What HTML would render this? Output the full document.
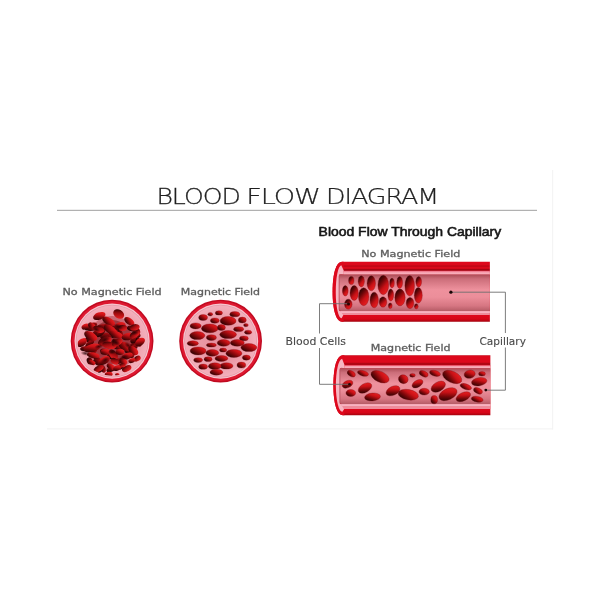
<!DOCTYPE html>
<html lang="en"><head><meta charset="utf-8"><title>Blood Flow Diagram</title>
<style>
html,body{margin:0;padding:0;background:#fff;}
body{width:600px;height:600px;overflow:hidden;font-family:"Liberation Sans","DejaVu Sans",sans-serif;}
svg{display:block;will-change:transform;opacity:0.999}
.lbl{font-family:"DejaVu Sans","Liberation Sans",sans-serif;font-size:9.2px;fill:#5e5e5e;stroke:#5e5e5e;stroke-width:0.3px;}
.lbl2{font-family:"DejaVu Sans","Liberation Sans",sans-serif;font-size:10.7px;fill:#4a4a4a;stroke:#4a4a4a;stroke-width:0.12px;}
.ttl{font-family:"DejaVu Sans Light","DejaVu Sans","Liberation Sans",sans-serif;font-weight:200;font-size:22px;fill:#202020;stroke:#202020;stroke-width:0.25px;}
.sub{font-family:"Liberation Sans","DejaVu Sans",sans-serif;font-weight:normal;font-size:12.3px;fill:#161616;stroke:#161616;stroke-width:0.55px;}
</style></head><body>
<svg width="600" height="600" viewBox="0 0 600 600">
<defs>
<linearGradient id="cg" x1="0.15" y1="0.9" x2="0.85" y2="0.1">
<stop offset="0" stop-color="#2c0202"/><stop offset="0.32" stop-color="#740709"/><stop offset="0.64" stop-color="#c81116"/><stop offset="1" stop-color="#ea2022"/>
</linearGradient>
<radialGradient id="shd" cx="0.5" cy="0.5" r="0.5">
<stop offset="0" stop-color="#1c0002" stop-opacity="0.8"/><stop offset="0.5" stop-color="#2a0003" stop-opacity="0.45"/><stop offset="1" stop-color="#3a0004" stop-opacity="0"/>
</radialGradient>
<linearGradient id="cgt" x1="0.2" y1="0.05" x2="0.8" y2="0.95">
<stop offset="0" stop-color="#220101"/><stop offset="0.3" stop-color="#6a0608"/><stop offset="0.62" stop-color="#c81116"/><stop offset="1" stop-color="#ea2022"/>
</linearGradient>
<linearGradient id="hlg" x1="0" y1="0" x2="0" y2="1">
<stop offset="0" stop-color="#ec627a"/><stop offset="0.4" stop-color="#f6a0ae"/><stop offset="1" stop-color="#fab8c4"/>
</linearGradient>
<linearGradient id="cgc" x1="0.1" y1="0.85" x2="0.9" y2="0.15">
<stop offset="0" stop-color="#240101"/><stop offset="0.4" stop-color="#7c080a"/><stop offset="0.75" stop-color="#c81116"/><stop offset="1" stop-color="#e41c1e"/>
</linearGradient>
<linearGradient id="cgd" x1="0.15" y1="0.9" x2="0.85" y2="0.1">
<stop offset="0" stop-color="#1e0101"/><stop offset="0.45" stop-color="#5c0507"/><stop offset="1" stop-color="#b30e12"/>
</linearGradient>
<linearGradient id="cg2" x1="0.2" y1="0.1" x2="0.8" y2="0.9">
<stop offset="0" stop-color="#3a0404"/><stop offset="0.4" stop-color="#9a0b0e"/><stop offset="1" stop-color="#e81d20"/>
</linearGradient>
<linearGradient id="cg3" x1="0" y1="0" x2="0" y2="1">
<stop offset="0" stop-color="#4a0606"/><stop offset="0.5" stop-color="#b80d10"/><stop offset="1" stop-color="#e6191c"/>
</linearGradient>
<radialGradient id="lum" cx="0.5" cy="0.5" r="0.5">
<stop offset="0" stop-color="#e68d9b"/><stop offset="0.6" stop-color="#ea98a5"/><stop offset="1" stop-color="#f3b0bc"/>
</radialGradient>
<linearGradient id="tube" x1="0" y1="0" x2="0" y2="1">
<stop offset="0" stop-color="#dd081c"/><stop offset="0.05" stop-color="#dd081c"/><stop offset="0.065" stop-color="#c40616"/><stop offset="0.085" stop-color="#c40616"/>
<stop offset="0.095" stop-color="#da081a"/><stop offset="0.11" stop-color="#da081a"/><stop offset="0.122" stop-color="#a60412"/><stop offset="0.15" stop-color="#a60412"/>
<stop offset="0.156" stop-color="#dd081c"/><stop offset="0.9" stop-color="#dd081c"/><stop offset="0.955" stop-color="#d60618"/><stop offset="1" stop-color="#a2030e"/>
</linearGradient>
<linearGradient id="tube2" x1="0" y1="0" x2="0" y2="1">
<stop offset="0" stop-color="#c40616"/><stop offset="0.02" stop-color="#dd081c"/><stop offset="0.115" stop-color="#dd081c"/><stop offset="0.135" stop-color="#b20514"/><stop offset="0.165" stop-color="#b20514"/>
<stop offset="0.17" stop-color="#dd081c"/><stop offset="0.9" stop-color="#dd081c"/><stop offset="0.955" stop-color="#d60618"/><stop offset="1" stop-color="#a2030e"/>
</linearGradient>
<linearGradient id="lumen" x1="0" y1="0" x2="0" y2="1">
<stop offset="0" stop-color="#ac4c56"/><stop offset="0.12" stop-color="#cc6e7a"/><stop offset="0.42" stop-color="#ee919d"/><stop offset="0.62" stop-color="#ec8e9a"/><stop offset="0.86" stop-color="#d67682"/><stop offset="1" stop-color="#b65c66"/>
</linearGradient>
<clipPath id="c1"><circle cx="112.1" cy="341.1" r="34.6"/></clipPath>
</defs>
<rect width="600" height="600" fill="#ffffff"/>
<rect x="47" y="428.4" width="506" height="1" fill="#f2f2f2"/>
<rect x="552.2" y="170" width="1" height="259.4" fill="#f2f2f2"/>

<text class="ttl" transform="translate(156.4,203.7) scale(1.145,1)" letter-spacing="-0.9">BLOOD</text>
<text class="ttl" transform="translate(246.2,203.7) scale(1.235,1)" letter-spacing="-0.9">FLOW</text>
<text class="ttl" transform="translate(326.1,203.7) scale(1.152,1)" letter-spacing="-0.9">DIAGRAM</text>
<rect x="57" y="209.8" width="480" height="1.1" fill="#a9a9a9"/>
<text class="sub" x="318.6" y="235.6" textLength="182.6" lengthAdjust="spacingAndGlyphs">Blood Flow Through Capillary</text>
<text class="lbl" x="62.4" y="294.8" textLength="99.3" lengthAdjust="spacingAndGlyphs">No Magnetic Field</text>
<text class="lbl" x="180.8" y="294.9" textLength="79.2" lengthAdjust="spacingAndGlyphs">Magnetic Field</text>
<text class="lbl" x="361.2" y="257.2" textLength="99.2" lengthAdjust="spacingAndGlyphs">No Magnetic Field</text>
<text class="lbl" x="370.8" y="351.0" textLength="79.7" lengthAdjust="spacingAndGlyphs">Magnetic Field</text>
<text class="lbl2" x="285.5" y="344.9" textLength="60.4" lengthAdjust="spacingAndGlyphs">Blood Cells</text>
<text class="lbl2" x="479.5" y="344.9" textLength="46.4" lengthAdjust="spacingAndGlyphs">Capillary</text>
<circle cx="112.1" cy="341.1" r="41.4" fill="#c00a20"/>
<circle cx="112.1" cy="341.1" r="40.0" fill="#de1830"/>
<circle cx="112.1" cy="341.1" r="37.6" fill="#f9c4ce"/>
<circle cx="112.1" cy="341.1" r="36.4" fill="#dc9aa6"/>
<circle cx="112.1" cy="341.1" r="35.9" fill="#f1a8b5"/>
<circle cx="112.1" cy="341.1" r="35.4" fill="url(#lum)"/>
<g clip-path="url(#c1)">
<ellipse cx="112" cy="343" rx="26" ry="27" fill="#8a0c14" opacity="0.35"/>
<ellipse cx="112" cy="342" rx="21" ry="22" fill="#7a0a10" opacity="0.5"/>
<ellipse cx="91.7" cy="349.6" rx="5.3" ry="2.6" fill="url(#cgd)" transform="rotate(50 91.7 349.6)"/>
<ellipse cx="119.6" cy="333.2" rx="5.0" ry="2.6" fill="url(#cgd)" transform="rotate(70 119.6 333.2)"/>
<ellipse cx="114.3" cy="334.6" rx="4.1" ry="2.3" fill="url(#cgd)" transform="rotate(-40 114.3 334.6)"/>
<ellipse cx="97.2" cy="332.9" rx="4.4" ry="2.8" fill="url(#cgd)" transform="rotate(-20 97.2 332.9)"/>
<ellipse cx="93.5" cy="324.7" rx="3.7" ry="2.2" fill="url(#cgd)" transform="rotate(-10 93.5 324.7)"/>
<ellipse cx="91.7" cy="328.2" rx="4.2" ry="2.7" fill="url(#cgd)" transform="rotate(-10 91.7 328.2)"/>
<ellipse cx="89.4" cy="340.4" rx="4.5" ry="2.7" fill="url(#cgd)" transform="rotate(35 89.4 340.4)"/>
<ellipse cx="101.8" cy="327.9" rx="4.6" ry="2.9" fill="url(#cgd)" transform="rotate(-30 101.8 327.9)"/>
<ellipse cx="107.8" cy="327.5" rx="4.0" ry="2.4" fill="url(#cgd)" transform="rotate(-30 107.8 327.5)"/>
<ellipse cx="103.4" cy="339.5" rx="3.8" ry="2.4" fill="url(#cgd)" transform="rotate(-30 103.4 339.5)"/>
<ellipse cx="137.3" cy="336.2" rx="3.6" ry="2.4" fill="url(#cgd)" transform="rotate(-40 137.3 336.2)"/>
<ellipse cx="84.4" cy="348.6" rx="4.3" ry="2.3" fill="url(#cgd)" transform="rotate(-10 84.4 348.6)"/>
<ellipse cx="114.6" cy="328.4" rx="3.8" ry="2.5" fill="url(#cgd)" transform="rotate(25 114.6 328.4)"/>
<ellipse cx="112.5" cy="333.3" rx="4.0" ry="2.3" fill="url(#cgd)" transform="rotate(-40 112.5 333.3)"/>
<ellipse cx="92.6" cy="347.6" rx="4.8" ry="2.4" fill="url(#cgd)" transform="rotate(50 92.6 347.6)"/>
<ellipse cx="120.9" cy="366.3" rx="3.8" ry="2.7" fill="url(#cgd)" transform="rotate(-30 120.9 366.3)"/>
<ellipse cx="89.7" cy="360.9" rx="3.6" ry="2.9" fill="url(#cgd)" transform="rotate(70 89.7 360.9)"/>
<ellipse cx="103.1" cy="368.9" rx="4.0" ry="2.5" fill="url(#cgd)" transform="rotate(70 103.1 368.9)"/>
<ellipse cx="106.3" cy="336.1" rx="5.4" ry="2.4" fill="url(#cgd)"/>
<ellipse cx="134.2" cy="344.6" rx="5.1" ry="2.5" fill="url(#cgd)" transform="rotate(-30 134.2 344.6)"/>
<ellipse cx="130.3" cy="355.1" rx="4.0" ry="2.7" fill="url(#cgd)" transform="rotate(15 130.3 355.1)"/>
<ellipse cx="104.7" cy="336.0" rx="4.7" ry="2.9" fill="url(#cgd)" transform="rotate(-20 104.7 336.0)"/>
<ellipse cx="120.1" cy="334.0" rx="3.9" ry="2.9" fill="url(#cgd)" transform="rotate(70 120.1 334.0)"/>
<ellipse cx="112.0" cy="355.8" rx="4.9" ry="3.0" fill="url(#cgd)" transform="rotate(-10 112.0 355.8)"/>
<ellipse cx="105.2" cy="326.5" rx="4.5" ry="2.3" fill="url(#cgd)" transform="rotate(-40 105.2 326.5)"/>
<ellipse cx="116.4" cy="346.7" rx="5.3" ry="2.4" fill="url(#cgd)" transform="rotate(25 116.4 346.7)"/>
<ellipse cx="110.9" cy="369.5" rx="4.7" ry="2.4" fill="url(#cgd)" transform="rotate(-20 110.9 369.5)"/>
<ellipse cx="137.4" cy="330.9" rx="3.8" ry="2.6" fill="url(#cgd)" transform="rotate(70 137.4 330.9)"/>
<ellipse cx="100.7" cy="333.1" rx="5.3" ry="2.4" fill="url(#cgd)" transform="rotate(-40 100.7 333.1)"/>
<ellipse cx="128.5" cy="351.0" rx="4.0" ry="2.2" fill="url(#cgd)"/>
<ellipse cx="97.4" cy="359.3" rx="3.8" ry="2.5" fill="url(#cgd)" transform="rotate(35 97.4 359.3)"/>
<ellipse cx="134.9" cy="340.3" rx="4.8" ry="2.7" fill="url(#cgd)" transform="rotate(-20 134.9 340.3)"/>
<ellipse cx="88.9" cy="328.3" rx="4.5" ry="2.5" fill="url(#cgd)"/>
<ellipse cx="116.0" cy="342.2" rx="4.7" ry="2.6" fill="url(#cgd)"/>
<ellipse cx="100.1" cy="369.5" rx="3.7" ry="2.6" fill="url(#cgd)" transform="rotate(-40 100.1 369.5)"/>
<ellipse cx="131.8" cy="328.6" rx="4.9" ry="2.8" fill="url(#cgd)" transform="rotate(15 131.8 328.6)"/>
<ellipse cx="98.0" cy="362.5" rx="5.2" ry="2.9" fill="url(#cgd)" transform="rotate(25 98.0 362.5)"/>
<ellipse cx="116.6" cy="341.5" rx="4.5" ry="2.2" fill="url(#cgd)" transform="rotate(25 116.6 341.5)"/>
<ellipse cx="109.7" cy="345.4" rx="3.7" ry="2.3" fill="url(#cgd)" transform="rotate(-30 109.7 345.4)"/>
<ellipse cx="138.6" cy="342.1" rx="4.9" ry="2.5" fill="url(#cgd)" transform="rotate(70 138.6 342.1)"/>
<ellipse cx="93.3" cy="348.4" rx="4.6" ry="2.6" fill="url(#cgd)" transform="rotate(50 93.3 348.4)"/>
<ellipse cx="133.7" cy="347.4" rx="4.5" ry="2.4" fill="url(#cgd)" transform="rotate(-30 133.7 347.4)"/>
<ellipse cx="89.7" cy="343.6" rx="5.3" ry="2.4" fill="url(#cgd)" transform="rotate(-40 89.7 343.6)"/>
<ellipse cx="104.7" cy="351.3" rx="4.7" ry="2.6" fill="url(#cgd)" transform="rotate(15 104.7 351.3)"/>
<ellipse cx="101.9" cy="326.9" rx="5.2" ry="2.5" fill="url(#cgd)"/>
<ellipse cx="117.9" cy="361.2" rx="5.1" ry="2.9" fill="url(#cgd)" transform="rotate(-10 117.9 361.2)"/>
<ellipse cx="99.3" cy="316.0" rx="6.5" ry="3.6" fill="url(#cg)" transform="rotate(-20 99.3 316.0)"/>
<ellipse cx="118.7" cy="314.0" rx="5.8" ry="4.3" fill="url(#cg2)" transform="rotate(30 118.7 314.0)"/>
<ellipse cx="108.7" cy="321.3" rx="7.2" ry="3.6" fill="url(#cg)" transform="rotate(30 108.7 321.3)"/>
<ellipse cx="129.3" cy="321.3" rx="5.8" ry="3.2" fill="url(#cg)" transform="rotate(35 129.3 321.3)"/>
<ellipse cx="134.7" cy="327.3" rx="5.0" ry="3.2" fill="url(#cg2)" transform="rotate(-10 134.7 327.3)"/>
<ellipse cx="85.3" cy="326.6" rx="4.0" ry="2.6" fill="url(#cg)" transform="rotate(-30 85.3 326.6)"/>
<ellipse cx="92.0" cy="326.0" rx="4.3" ry="2.9" fill="url(#cg)" transform="rotate(40 92.0 326.0)"/>
<ellipse cx="98.7" cy="329.3" rx="5.8" ry="3.2" fill="url(#cg2)" transform="rotate(20 98.7 329.3)"/>
<ellipse cx="110.7" cy="330.0" rx="7.9" ry="4.0" fill="url(#cg)" transform="rotate(35 110.7 330.0)"/>
<ellipse cx="120.0" cy="326.0" rx="5.8" ry="3.6" fill="url(#cg)" transform="rotate(-20 120.0 326.0)"/>
<ellipse cx="122.7" cy="328.0" rx="4.3" ry="2.9" fill="url(#cg2)"/>
<ellipse cx="90.7" cy="336.0" rx="7.2" ry="4.0" fill="url(#cg)" transform="rotate(30 90.7 336.0)"/>
<ellipse cx="82.0" cy="342.6" rx="5.5" ry="3.6" fill="url(#cg)" transform="rotate(-40 82.0 342.6)"/>
<ellipse cx="104.7" cy="341.3" rx="7.2" ry="4.3" fill="url(#cg2)" transform="rotate(-25 104.7 341.3)"/>
<ellipse cx="116.0" cy="334.6" rx="7.2" ry="3.6" fill="url(#cg)" transform="rotate(20 116.0 334.6)"/>
<ellipse cx="128.0" cy="336.6" rx="6.5" ry="3.6" fill="url(#cg)" transform="rotate(-10 128.0 336.6)"/>
<ellipse cx="134.7" cy="334.6" rx="5.5" ry="3.2" fill="url(#cg2)" transform="rotate(-30 134.7 334.6)"/>
<ellipse cx="140.0" cy="342.0" rx="5.5" ry="3.6" fill="url(#cg)" transform="rotate(-35 140.0 342.0)"/>
<ellipse cx="92.0" cy="348.0" rx="8.6" ry="4.0" fill="url(#cg)" transform="rotate(-15 92.0 348.0)"/>
<ellipse cx="109.3" cy="345.3" rx="7.2" ry="3.6" fill="url(#cg2)" transform="rotate(10 109.3 345.3)"/>
<ellipse cx="125.3" cy="346.6" rx="7.2" ry="4.0" fill="url(#cg)" transform="rotate(25 125.3 346.6)"/>
<ellipse cx="133.3" cy="350.6" rx="5.8" ry="3.6" fill="url(#cg)" transform="rotate(40 133.3 350.6)"/>
<ellipse cx="117.3" cy="342.6" rx="5.8" ry="3.2" fill="url(#cg2)" transform="rotate(-30 117.3 342.6)"/>
<ellipse cx="93.3" cy="355.3" rx="6.5" ry="2.9" fill="url(#cg)" transform="rotate(10 93.3 355.3)"/>
<ellipse cx="105.3" cy="352.0" rx="5.0" ry="2.9" fill="url(#cg)"/>
<ellipse cx="113.3" cy="354.6" rx="5.8" ry="3.6" fill="url(#cg2)" transform="rotate(50 113.3 354.6)"/>
<ellipse cx="120.0" cy="352.0" rx="4.3" ry="2.9" fill="url(#cg)"/>
<ellipse cx="127.3" cy="356.0" rx="5.8" ry="3.2" fill="url(#cg)" transform="rotate(-20 127.3 356.0)"/>
<ellipse cx="137.3" cy="358.6" rx="3.6" ry="2.6" fill="url(#cg2)" transform="rotate(-30 137.3 358.6)"/>
<ellipse cx="92.0" cy="362.6" rx="3.6" ry="2.2" fill="url(#cg)" transform="rotate(20 92.0 362.6)"/>
<ellipse cx="104.0" cy="360.6" rx="6.5" ry="3.6" fill="url(#cg)" transform="rotate(-30 104.0 360.6)"/>
<ellipse cx="114.7" cy="361.3" rx="4.3" ry="2.9" fill="url(#cg2)" transform="rotate(30 114.7 361.3)"/>
<ellipse cx="123.3" cy="361.3" rx="4.3" ry="2.9" fill="url(#cg)" transform="rotate(40 123.3 361.3)"/>
<ellipse cx="132.0" cy="360.6" rx="3.6" ry="2.2" fill="url(#cg)" transform="rotate(-20 132.0 360.6)"/>
<ellipse cx="98.7" cy="368.6" rx="5.5" ry="2.9" fill="url(#cg2)" transform="rotate(-25 98.7 368.6)"/>
<ellipse cx="110.7" cy="366.6" rx="4.3" ry="2.6" fill="url(#cg)" transform="rotate(30 110.7 366.6)"/>
<ellipse cx="117.3" cy="368.0" rx="4.3" ry="2.6" fill="url(#cg)" transform="rotate(-20 117.3 368.0)"/>
<ellipse cx="126.7" cy="368.6" rx="5.0" ry="2.9" fill="url(#cg2)" transform="rotate(-25 126.7 368.6)"/>
<ellipse cx="108.7" cy="374.4" rx="4.0" ry="2.6" fill="url(#cg)" transform="rotate(-10 108.7 374.4)"/>
<ellipse cx="117.3" cy="374.6" rx="2.2" ry="1.7" fill="url(#cg)"/>
<ellipse cx="122.7" cy="365.3" rx="2.9" ry="2.0" fill="url(#cg2)"/>
<ellipse cx="96.0" cy="329.3" rx="4.7" ry="2.7" fill="url(#shd)" transform="rotate(30 96.0 329.3)"/>
<ellipse cx="104.7" cy="340.0" rx="6.0" ry="3.3" fill="url(#shd)" transform="rotate(-30 104.7 340.0)"/>
<ellipse cx="118.0" cy="326.6" rx="5.3" ry="2.9" fill="url(#shd)" transform="rotate(20 118.0 326.6)"/>
<ellipse cx="134.7" cy="332.6" rx="4.7" ry="2.7" fill="url(#shd)" transform="rotate(-20 134.7 332.6)"/>
<ellipse cx="105.3" cy="360.0" rx="5.3" ry="2.9" fill="url(#shd)" transform="rotate(-30 105.3 360.0)"/>
<ellipse cx="85.3" cy="353.3" rx="4.7" ry="2.4" fill="url(#shd)" transform="rotate(10 85.3 353.3)"/>
<ellipse cx="124.0" cy="357.3" rx="5.3" ry="2.9" fill="url(#shd)" transform="rotate(-20 124.0 357.3)"/>
<ellipse cx="116.0" cy="342.6" rx="5.3" ry="2.9" fill="url(#shd)" transform="rotate(30 116.0 342.6)"/>
<ellipse cx="128.0" cy="345.3" rx="4.7" ry="2.7" fill="url(#shd)" transform="rotate(40 128.0 345.3)"/>
<ellipse cx="112.0" cy="352.0" rx="4.0" ry="2.4" fill="url(#shd)" transform="rotate(0 112.0 352.0)"/>
<ellipse cx="98.7" cy="346.6" rx="4.7" ry="2.4" fill="url(#shd)" transform="rotate(-15 98.7 346.6)"/>
</g>
<circle cx="220.6" cy="341.1" r="41.4" fill="#c00a20"/>
<circle cx="220.6" cy="341.1" r="40.0" fill="#de1830"/>
<circle cx="220.6" cy="341.1" r="37.6" fill="#f9c4ce"/>
<circle cx="220.6" cy="341.1" r="36.4" fill="#dc9aa6"/>
<circle cx="220.6" cy="341.1" r="35.9" fill="#f1a8b5"/>
<circle cx="220.6" cy="341.1" r="35.4" fill="url(#lum)"/>
<g stroke="#6e0810" stroke-width="0.5" stroke-opacity="0.6">
<ellipse cx="210.3" cy="314.2" rx="2.4" ry="1.8" fill="url(#cgc)"/>
<ellipse cx="218.9" cy="312.9" rx="3.6" ry="2.2" fill="url(#cgc)"/>
<ellipse cx="234.8" cy="314.2" rx="5.0" ry="2.6" fill="url(#cgc)"/>
<ellipse cx="203.1" cy="317.6" rx="4.4" ry="3.0" fill="url(#cgc)"/>
<ellipse cx="214.8" cy="320.6" rx="4.4" ry="2.6" fill="url(#cgc)"/>
<ellipse cx="228.1" cy="320.9" rx="8.0" ry="4.4" fill="url(#cgc)"/>
<ellipse cx="242.3" cy="320.1" rx="4.0" ry="3.0" fill="url(#cgc)"/>
<ellipse cx="245.9" cy="325.1" rx="2.4" ry="1.6" fill="url(#cgc)"/>
<ellipse cx="195.6" cy="325.9" rx="5.6" ry="3.0" fill="url(#cgc)"/>
<ellipse cx="209.8" cy="328.4" rx="8.4" ry="4.4" fill="url(#cgc)"/>
<ellipse cx="221.4" cy="327.6" rx="4.0" ry="3.0" fill="url(#cgc)"/>
<ellipse cx="238.6" cy="329.2" rx="5.0" ry="2.4" fill="url(#cgc)"/>
<ellipse cx="248.1" cy="332.2" rx="3.6" ry="2.0" fill="url(#cgc)"/>
<ellipse cx="197.3" cy="335.6" rx="7.6" ry="4.0" fill="url(#cgc)"/>
<ellipse cx="211.4" cy="337.6" rx="5.0" ry="2.8" fill="url(#cgc)"/>
<ellipse cx="228.1" cy="334.6" rx="8.4" ry="4.0" fill="url(#cgc)"/>
<ellipse cx="243.9" cy="338.4" rx="4.4" ry="2.4" fill="url(#cgc)"/>
<ellipse cx="192.8" cy="343.4" rx="5.6" ry="2.6" fill="url(#cgc)"/>
<ellipse cx="211.4" cy="345.1" rx="5.0" ry="2.0" fill="url(#cgc)"/>
<ellipse cx="223.6" cy="342.9" rx="6.4" ry="3.4" fill="url(#cgc)"/>
<ellipse cx="237.3" cy="342.9" rx="7.0" ry="3.4" fill="url(#cgc)"/>
<ellipse cx="248.9" cy="347.6" rx="8.0" ry="4.0" fill="url(#cgc)"/>
<ellipse cx="198.1" cy="350.9" rx="8.0" ry="4.0" fill="url(#cgc)"/>
<ellipse cx="212.3" cy="352.9" rx="6.4" ry="3.4" fill="url(#cgc)"/>
<ellipse cx="223.1" cy="350.1" rx="3.6" ry="2.0" fill="url(#cgc)"/>
<ellipse cx="233.9" cy="353.4" rx="8.0" ry="4.0" fill="url(#cgc)"/>
<ellipse cx="246.4" cy="357.6" rx="4.0" ry="2.6" fill="url(#cgc)"/>
<ellipse cx="198.1" cy="360.1" rx="4.4" ry="2.4" fill="url(#cgc)"/>
<ellipse cx="208.1" cy="359.2" rx="4.0" ry="2.4" fill="url(#cgc)"/>
<ellipse cx="221.4" cy="358.4" rx="6.4" ry="3.0" fill="url(#cgc)"/>
<ellipse cx="226.4" cy="365.9" rx="6.6" ry="3.2" fill="url(#cgc)"/>
<ellipse cx="241.4" cy="365.1" rx="4.4" ry="3.0" fill="url(#cgc)"/>
<ellipse cx="203.1" cy="366.7" rx="4.4" ry="2.6" fill="url(#cgc)"/>
<ellipse cx="214.8" cy="366.2" rx="6.4" ry="3.4" fill="url(#cgc)"/>
<ellipse cx="216.4" cy="372.2" rx="6.4" ry="3.0" fill="url(#cgc)"/>
</g>
<path d="M489.9,261.8 L342.1,261.8 C336.21,261.8 332.6,273.20 332.6,291.80 C332.6,310.40 336.21,321.8 342.1,321.8 L489.9,321.8 Z" fill="url(#tube)"/>
<path d="M343.6,261.8 L342.1,261.8 C336.21,261.8 332.6,273.20 332.6,291.80 C332.6,310.40 336.21,321.8 342.1,321.8 L343.6,321.8 Z" fill="#dd081c"/>
<path d="M341.30,265.30 A5.7,26.45 0 0 0 341.60,318.20 L343.40,314.90 L343.40,310.90 L339.10,310.90 L339.10,274.60 L343.80,274.60 L343.80,270.80 Z" fill="#f7b6c2"/>
<rect x="343.60" y="270.80" width="146.30" height="3.90" fill="url(#hlg)"/>
<path d="M489.9,274.60 L340.70,274.60 Q339.10,274.60 339.10,276.40 L339.10,309.10 Q339.10,310.90 340.70,310.90 L489.9,310.90 Z" fill="url(#lumen)"/>
<path d="M341.60,274.60 L340.70,274.60 Q339.10,274.60 339.10,276.40 L339.10,309.10 Q339.10,310.90 340.70,310.90" fill="none" stroke="#b8505e" stroke-width="0.8"/>
<path d="M489.9,310.90 L340.10,310.90 L343.10,314.90 L489.9,314.90 Z" fill="#ee8c9b"/>
<path d="M489.9,311.20 L340.30,311.20 L341.30,312.90 L489.9,312.90 Z" fill="#f7b4c2"/>
<g stroke="#6e0810" stroke-width="0.5" stroke-opacity="0.6">
<ellipse cx="351.3" cy="280.5" rx="2.7" ry="4.1" fill="url(#cgt)"/>
<ellipse cx="361.3" cy="281.3" rx="3.1" ry="5.6" fill="url(#cgt)"/>
<ellipse cx="371.3" cy="283.3" rx="4.2" ry="7.5" fill="url(#cgt)"/>
<ellipse cx="383.3" cy="285.0" rx="5.4" ry="9.7" fill="url(#cgt)"/>
<ellipse cx="392.0" cy="283.0" rx="2.3" ry="4.7" fill="url(#cgt)"/>
<ellipse cx="399.7" cy="282.5" rx="2.9" ry="6.0" fill="url(#cgt)"/>
<ellipse cx="409.7" cy="285.8" rx="4.8" ry="10.3" fill="url(#cgt)"/>
<ellipse cx="418.7" cy="281.7" rx="2.9" ry="5.2" fill="url(#cgt)"/>
<ellipse cx="345.3" cy="290.8" rx="2.9" ry="5.2" fill="url(#cgt)"/>
<ellipse cx="354.2" cy="293.0" rx="4.2" ry="7.5" fill="url(#cgt)"/>
<ellipse cx="363.7" cy="296.7" rx="5.2" ry="9.0" fill="url(#cgt)"/>
<ellipse cx="374.2" cy="300.0" rx="4.2" ry="7.8" fill="url(#cgt)"/>
<ellipse cx="390.8" cy="295.0" rx="2.9" ry="6.0" fill="url(#cgt)"/>
<ellipse cx="400.0" cy="297.5" rx="5.2" ry="8.4" fill="url(#cgt)"/>
<ellipse cx="418.3" cy="295.3" rx="4.0" ry="7.8" fill="url(#cgt)"/>
<ellipse cx="348.3" cy="304.2" rx="3.8" ry="5.0" fill="url(#cgt)"/>
<ellipse cx="383.0" cy="302.0" rx="3.8" ry="5.2" fill="url(#cgt)"/>
<ellipse cx="390.3" cy="305.8" rx="1.9" ry="2.8" fill="url(#cgt)"/>
<ellipse cx="410.0" cy="303.0" rx="3.8" ry="5.6" fill="url(#cgt)"/>
<ellipse cx="416.3" cy="306.3" rx="1.9" ry="2.6" fill="url(#cgt)"/>
</g>
<path d="M490.4,355.3 L342.9,355.3 C337.01,355.3 333.4,366.70 333.4,385.30 C333.4,403.90 337.01,415.3 342.9,415.3 L490.4,415.3 Z" fill="url(#tube2)"/>
<path d="M344.4,355.3 L342.9,355.3 C337.01,355.3 333.4,366.70 333.4,385.30 C333.4,403.90 337.01,415.3 342.9,415.3 L344.4,415.3 Z" fill="#dd081c"/>
<path d="M342.10,358.80 A6.4,26.45 0 0 0 342.40,411.70 L344.20,408.90 L344.20,404.00 L339.90,404.00 L339.90,368.25 L344.60,368.25 L344.60,365.25 Z" fill="#f7b6c2"/>
<rect x="344.40" y="365.25" width="146.00" height="3.10" fill="url(#hlg)"/>
<path d="M490.4,368.25 L341.50,368.25 Q339.90,368.25 339.90,370.05 L339.90,402.20 Q339.90,404.00 341.50,404.00 L490.4,404.00 Z" fill="url(#lumen)"/>
<path d="M342.40,368.25 L341.50,368.25 Q339.90,368.25 339.90,370.05 L339.90,402.20 Q339.90,404.00 341.50,404.00" fill="none" stroke="#b8505e" stroke-width="0.8"/>
<path d="M490.4,404.00 L340.90,404.00 L343.90,408.90 L490.4,408.90 Z" fill="#ee8c9b"/>
<path d="M490.4,404.30 L341.10,404.30 L342.10,406.00 L490.4,406.00 Z" fill="#f7b4c2"/>
<g stroke="#6e0810" stroke-width="0.5" stroke-opacity="0.6">
<ellipse cx="351.3" cy="373.7" rx="4.4" ry="2.7" fill="url(#cg)" transform="rotate(30 351.3 373.7)"/>
<ellipse cx="363.0" cy="373.3" rx="5.7" ry="2.7" fill="url(#cg)" transform="rotate(15 363.0 373.3)"/>
<ellipse cx="380.0" cy="376.7" rx="9.7" ry="5.3" fill="url(#cg)" transform="rotate(25 380.0 376.7)"/>
<ellipse cx="347.5" cy="384.2" rx="5.7" ry="3.5" fill="url(#cg)" transform="rotate(-25 347.5 384.2)"/>
<ellipse cx="365.0" cy="388.0" rx="7.4" ry="4.4" fill="url(#cg)" transform="rotate(-30 365.0 388.0)"/>
<ellipse cx="350.8" cy="393.0" rx="4.9" ry="3.5" fill="url(#cg)"/>
<ellipse cx="372.5" cy="397.0" rx="8.0" ry="3.9" fill="url(#cg)" transform="rotate(-5 372.5 397.0)"/>
<ellipse cx="393.0" cy="390.8" rx="7.4" ry="4.4" fill="url(#cg)" transform="rotate(-25 393.0 390.8)"/>
<ellipse cx="403.3" cy="379.2" rx="4.9" ry="4.4" fill="url(#cg)" transform="rotate(20 403.3 379.2)"/>
<ellipse cx="412.5" cy="375.3" rx="2.8" ry="1.9" fill="url(#cg)"/>
<ellipse cx="423.7" cy="373.8" rx="4.7" ry="2.8" fill="url(#cg)" transform="rotate(25 423.7 373.8)"/>
<ellipse cx="435.0" cy="373.3" rx="5.6" ry="2.8" fill="url(#cg)" transform="rotate(15 435.0 373.3)"/>
<ellipse cx="452.2" cy="377.0" rx="10.3" ry="5.6" fill="url(#cg)" transform="rotate(25 452.2 377.0)"/>
<ellipse cx="469.7" cy="374.2" rx="5.6" ry="4.1" fill="url(#cg)" transform="rotate(-10 469.7 374.2)"/>
<ellipse cx="482.0" cy="373.8" rx="3.4" ry="2.2" fill="url(#cg)"/>
<ellipse cx="479.2" cy="381.7" rx="7.8" ry="4.1" fill="url(#cg)" transform="rotate(-10 479.2 381.7)"/>
<ellipse cx="417.5" cy="383.7" rx="6.0" ry="3.4" fill="url(#cg)" transform="rotate(-30 417.5 383.7)"/>
<ellipse cx="424.2" cy="391.7" rx="5.2" ry="3.4" fill="url(#cg)"/>
<ellipse cx="438.3" cy="386.7" rx="7.8" ry="4.7" fill="url(#cg)" transform="rotate(-30 438.3 386.7)"/>
<ellipse cx="408.3" cy="394.7" rx="10.3" ry="5.2" fill="url(#cg)" transform="rotate(10 408.3 394.7)"/>
<ellipse cx="434.2" cy="399.7" rx="3.4" ry="4.1" fill="url(#cg)"/>
<ellipse cx="448.0" cy="394.2" rx="9.7" ry="5.6" fill="url(#cg)" transform="rotate(-25 448.0 394.2)"/>
<ellipse cx="465.8" cy="386.7" rx="6.0" ry="2.8" fill="url(#cg)" transform="rotate(20 465.8 386.7)"/>
<ellipse cx="478.0" cy="390.8" rx="4.7" ry="2.8" fill="url(#cg)" transform="rotate(25 478.0 390.8)"/>
<ellipse cx="463.3" cy="396.7" rx="7.8" ry="4.1" fill="url(#cg)" transform="rotate(-25 463.3 396.7)"/>
<ellipse cx="477.2" cy="399.2" rx="6.0" ry="2.8" fill="url(#cg)" transform="rotate(10 477.2 399.2)"/>
</g>
<g fill="none" stroke="#6e6e6e" stroke-width="0.9">
<path d="M347.5,303.7 L319.5,303.7 L319.5,333.5 M319.5,348 L319.5,384.3 L349,384.3"/>
<path d="M451,292.2 L505.4,292.2 L505.4,333 M505.4,347.5 L505.4,390.2 L486,390.2"/>
</g>
<circle cx="348.5" cy="303.9" r="1.5" fill="#2a0505"/>
<circle cx="349.5" cy="384.3" r="1.3" fill="#2a0505"/>
<circle cx="450.9" cy="292.2" r="1.6" fill="#1a0505"/>
<circle cx="485.8" cy="390.1" r="1.4" fill="#1a0505"/>
</svg></body></html>
